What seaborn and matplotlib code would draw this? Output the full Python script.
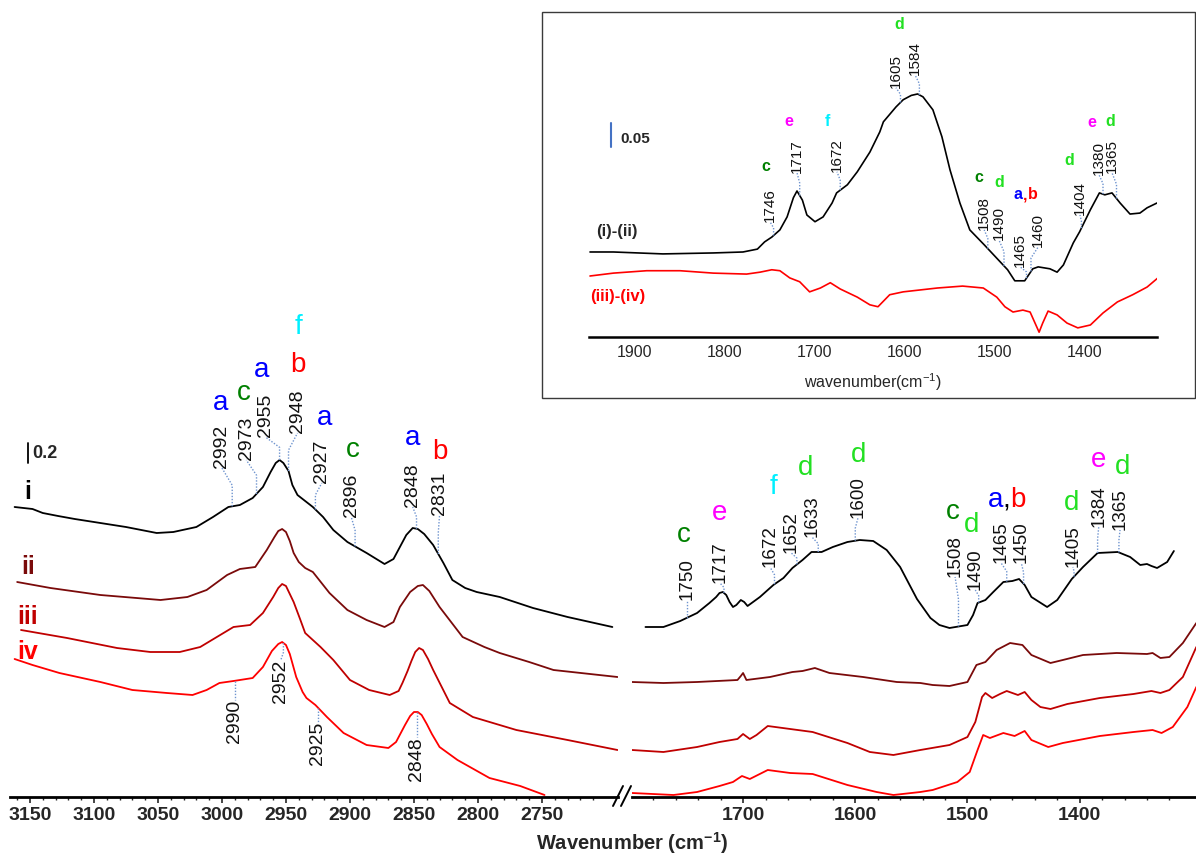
import numpy as np
import matplotlib
matplotlib.use("Agg")
import matplotlib.pyplot as plt
import seaborn as sns
from matplotlib.patches import Rectangle
from matplotlib.lines import Line2D
from matplotlib.ticker import FixedLocator

# ---------------------------------------------------------------- data
# C-H stretching region (left panel), absorbance with stacking offsets
wn_i_ch = [3162, 3155, 3148, 3140, 3128, 3115, 3095, 3075, 3051, 3038, 3020, 3007, 2995, 2986,
           2976, 2968, 2962, 2958, 2955, 2952, 2948, 2945, 2941, 2936, 2929, 2921, 2913, 2902,
           2887, 2873, 2866, 2861, 2856, 2851, 2847, 2842, 2835, 2827, 2820, 2810, 2801, 2783,
           2757, 2730, 2695]
abs_i_ch = [2.90, 2.89, 2.88, 2.84, 2.81, 2.78, 2.74, 2.70, 2.64, 2.65, 2.70, 2.80, 2.90, 2.92,
            2.99, 3.10, 3.25, 3.34, 3.37, 3.34, 3.26, 3.12, 3.02, 2.97, 2.90, 2.80, 2.67, 2.55,
            2.44, 2.33, 2.38, 2.50, 2.62, 2.69, 2.68, 2.63, 2.52, 2.34, 2.17, 2.09, 2.05, 2.00,
            1.89, 1.80, 1.70]

wn_ii_ch = [3160, 3134, 3095, 3048, 3027, 3012, 2996, 2986, 2974, 2965, 2959, 2956, 2953, 2950,
            2947, 2944, 2940, 2935, 2929, 2916, 2902, 2887, 2873, 2866, 2861, 2853, 2847, 2843,
            2838, 2830, 2812, 2795, 2783, 2760, 2741, 2691]
abs_ii_ch = [2.15, 2.09, 2.02, 1.97, 2.00, 2.07, 2.22, 2.28, 2.30, 2.47, 2.60, 2.66, 2.68, 2.65,
             2.56, 2.44, 2.35, 2.29, 2.25, 2.04, 1.87, 1.77, 1.70, 1.75, 1.90, 2.05, 2.11, 2.12,
             2.06, 1.90, 1.60, 1.50, 1.44, 1.35, 1.27, 1.20]

wn_iii_ch = [3157, 3121, 3082, 3056, 3033, 3017, 3004, 2991, 2978, 2968, 2960, 2956, 2953, 2950,
             2947, 2944, 2939, 2935, 2923, 2913, 2900, 2885, 2869, 2862, 2859, 2855, 2852, 2849,
             2846, 2843, 2839, 2835, 2822, 2804, 2770, 2730, 2691]
abs_iii_ch = [1.67, 1.59, 1.49, 1.45, 1.45, 1.50, 1.60, 1.70, 1.72, 1.84, 2.00, 2.09, 2.13, 2.11,
              2.03, 1.95, 1.78, 1.64, 1.50, 1.37, 1.17, 1.07, 1.02, 1.06, 1.14, 1.26, 1.36, 1.45,
              1.49, 1.47, 1.38, 1.27, 0.94, 0.80, 0.67, 0.57, 0.47]

wn_iv_ch = [3162, 3148, 3127, 3095, 3070, 3043, 3023, 3012, 3002, 2991, 2976, 2968, 2961, 2956,
            2953, 2950, 2947, 2942, 2937, 2934, 2927, 2918, 2905, 2887, 2870, 2864, 2857, 2853,
            2850, 2847, 2844, 2840, 2836, 2830, 2816, 2791, 2767, 2748]
abs_iv_ch = [1.38, 1.32, 1.24, 1.15, 1.07, 1.04, 1.02, 1.07, 1.14, 1.16, 1.19, 1.30, 1.46, 1.53,
             1.55, 1.52, 1.43, 1.20, 1.05, 0.99, 0.92, 0.80, 0.64, 0.52, 0.49, 0.55, 0.72, 0.81,
             0.85, 0.85, 0.82, 0.73, 0.63, 0.50, 0.37, 0.19, 0.11, 0.02]

# Fingerprint region (right panel)
wn_i_fp = [1787, 1771, 1756, 1741, 1730, 1724, 1721, 1718, 1715, 1712, 1709, 1706, 1702, 1699,
           1696, 1685, 1673, 1664, 1656, 1647, 1639, 1630, 1620, 1607, 1596, 1584, 1572, 1560,
           1545, 1533, 1525, 1516, 1500, 1495, 1491, 1484, 1477, 1468, 1460, 1454, 1449, 1443,
           1429, 1420, 1407, 1397, 1384, 1366, 1355, 1346, 1340, 1336, 1331, 1322, 1316]
abs_i_fp = [1.70, 1.70, 1.76, 1.84, 1.94, 2.00, 2.04, 2.05, 2.02, 1.95, 1.90, 1.92, 1.97, 1.95,
            1.91, 2.00, 2.12, 2.19, 2.29, 2.37, 2.45, 2.45, 2.50, 2.55, 2.57, 2.56, 2.47, 2.30,
            1.98, 1.79, 1.72, 1.69, 1.72, 1.82, 1.94, 1.97, 2.05, 2.15, 2.16, 2.18, 2.12, 2.00,
            1.90, 1.97, 2.18, 2.30, 2.44, 2.45, 2.40, 2.32, 2.33, 2.31, 2.29, 2.35, 2.46]

wn_ii_fp = [1799, 1771, 1741, 1705, 1702, 1700, 1697, 1676, 1656, 1647, 1636, 1623, 1593, 1563,
            1542, 1531, 1516, 1500, 1492, 1484, 1474, 1462, 1451, 1443, 1426, 1415, 1397, 1367,
            1340, 1335, 1328, 1320, 1308, 1296]
abs_ii_fp = [1.15, 1.14, 1.15, 1.17, 1.21, 1.24, 1.17, 1.20, 1.25, 1.26, 1.29, 1.24, 1.20, 1.15,
             1.14, 1.12, 1.11, 1.15, 1.32, 1.35, 1.47, 1.54, 1.52, 1.42, 1.34, 1.37, 1.42, 1.44,
             1.43, 1.44, 1.39, 1.40, 1.54, 1.74]

wn_iii_fp = [1799, 1771, 1741, 1721, 1705, 1700, 1694, 1688, 1678, 1658, 1638, 1607, 1587, 1566,
             1542, 1516, 1500, 1493, 1487, 1484, 1478, 1471, 1465, 1455, 1449, 1443, 1435, 1426,
             1411, 1382, 1352, 1336, 1328, 1320, 1308, 1296]
abs_iii_fp = [0.47, 0.45, 0.50, 0.55, 0.58, 0.63, 0.58, 0.62, 0.71, 0.68, 0.65, 0.54, 0.45, 0.42,
              0.47, 0.52, 0.60, 0.75, 1.00, 1.04, 0.99, 1.03, 1.06, 1.02, 1.05, 0.97, 0.90, 0.88,
              0.93, 0.99, 1.03, 1.06, 1.04, 1.07, 1.20, 1.50]

wn_iv_fp = [1799, 1762, 1741, 1721, 1709, 1701, 1694, 1678, 1658, 1638, 1607, 1581, 1566, 1542,
            1531, 1509, 1498, 1491, 1486, 1480, 1468, 1458, 1449, 1443, 1428, 1415, 1382, 1352,
            1335, 1327, 1317, 1304, 1296]
abs_iv_fp = [0.04, 0.02, 0.05, 0.11, 0.15, 0.21, 0.18, 0.27, 0.24, 0.23, 0.12, 0.05, 0.02, 0.05,
             0.07, 0.15, 0.25, 0.47, 0.62, 0.59, 0.64, 0.61, 0.66, 0.57, 0.50, 0.54, 0.61, 0.65,
             0.67, 0.64, 0.70, 0.90, 1.10]

# Difference spectra (inset)
wn_diff = [1950, 1924, 1869, 1813, 1780, 1764, 1756, 1748, 1739, 1731, 1724, 1720, 1714, 1709,
           1700, 1691, 1681, 1676, 1664, 1653, 1639, 1628, 1624, 1610, 1602, 1593, 1586, 1580,
           1569, 1559, 1550, 1539, 1528, 1512, 1496, 1486, 1478, 1467, 1458, 1452, 1439, 1431,
           1424, 1413, 1406, 1394, 1384, 1378, 1370, 1361, 1350, 1339, 1331, 1320]
diff_i_ii = [0.177, 0.177, 0.173, 0.175, 0.177, 0.183, 0.198, 0.208, 0.223, 0.250, 0.290, 0.304,
             0.285, 0.254, 0.240, 0.250, 0.279, 0.300, 0.317, 0.344, 0.385, 0.427, 0.448, 0.479,
             0.494, 0.503, 0.506, 0.500, 0.473, 0.417, 0.348, 0.279, 0.223, 0.192, 0.160, 0.140,
             0.117, 0.117, 0.142, 0.146, 0.142, 0.135, 0.150, 0.196, 0.219, 0.265, 0.300, 0.296,
             0.300, 0.279, 0.256, 0.258, 0.269, 0.279]

wn_diff2 = [1950, 1924, 1887, 1850, 1813, 1776, 1761, 1748, 1739, 1728, 1717, 1706, 1694, 1683,
            1672, 1653, 1639, 1630, 1617, 1602, 1564, 1536, 1513, 1498, 1489, 1480, 1469, 1461,
            1456, 1451, 1447, 1441, 1431, 1420, 1408, 1394, 1380, 1364, 1347, 1331, 1319]
diff_iii_iv = [0.127, 0.133, 0.138, 0.138, 0.133, 0.131, 0.135, 0.140, 0.138, 0.123, 0.115, 0.094,
               0.102, 0.113, 0.100, 0.083, 0.067, 0.063, 0.088, 0.094, 0.102, 0.106, 0.102, 0.083,
               0.063, 0.052, 0.056, 0.052, 0.031, 0.010, 0.029, 0.054, 0.046, 0.029, 0.019, 0.025,
               0.050, 0.073, 0.088, 0.104, 0.123]

ticks_ch = [3150, 3100, 3050, 3000, 2950, 2900, 2850, 2800, 2750]
ticks_fp = [1700, 1600, 1500, 1400]
ticks_inset = [1900, 1800, 1700, 1600, 1500, 1400]

# band assignments: marked wavenumber, label x, label end (y)
marks_ch_top = [(2992, 3000, 3.29), (2973, 2981, 3.37), (2955, 2966, 3.60), (2948, 2941, 3.64),
                (2927, 2922, 3.14), (2896, 2899, 2.80), (2848, 2851, 2.90), (2831, 2830, 2.82)]
marks_ch_low = [(2990, 2990, 0.97), (2952, 2954, 1.37), (2925, 2925, 0.75), (2848, 2848, 0.60)]
marks_fp = [(1750, 1750, 1.97), (1717, 1720.6, 2.14), (1672, 1676, 2.30), (1652, 1657, 2.44),
            (1633, 1638.6, 2.60), (1600, 1597.6, 2.79), (1508, 1511, 2.20), (1490, 1493, 2.07),
            (1465, 1470, 2.34), (1450, 1452, 2.34), (1405, 1406, 2.30), (1384, 1383, 2.70),
            (1365, 1364, 2.67)]
marks_inset = [(1746, 1750, 0.240), (1717, 1720, 0.342), (1672, 1675.6, 0.344),
               (1605, 1610, 0.519), (1584, 1588.9, 0.546), (1508, 1512, 0.223),
               (1490, 1495.6, 0.202), (1465, 1472, 0.146), (1460, 1452, 0.1875),
               (1404, 1405.6, 0.254), (1380, 1384.4, 0.3375), (1365, 1370, 0.342)]

# ---------------------------------------------------------------- style
BLUE, RED, GREEN, LIME = "#0000ff", "#ff0000", "#008000", "#22e022"
MAGENTA, CYAN = "#ff00ff", "#00f0ff"
C_I, C_II, C_III, C_IV = "#000000", "#7a0a0a", "#c00000", "#ff0000"
MARK = "#6f94cf"

letters_ch = [("a", BLUE, 3001, 3.94), ("c", GREEN, 2983, 4.04), ("a", BLUE, 2969, 4.27),
              ("b", RED, 2941, 4.32), ("f", CYAN, 2940, 4.70), ("a", BLUE, 2920, 3.79),
              ("c", GREEN, 2898, 3.47), ("a", BLUE, 2851, 3.59), ("b", RED, 2830, 3.45)]
letters_fp = [("c", GREEN, 1752.7, 2.62), ("e", MAGENTA, 1720.6, 2.84), ("f", CYAN, 1672.5, 3.10),
              ("d", LIME, 1644, 3.29), ("d", LIME, 1597, 3.42), ("c", GREEN, 1513, 2.85),
              ("d", LIME, 1496, 2.72), ("a", BLUE, 1474.6, 2.97), (",", "black", 1465.7, 2.97),
              ("b", RED, 1455, 2.97), ("d", LIME, 1407, 2.94), ("e", MAGENTA, 1383, 3.37),
              ("d", LIME, 1362, 3.30)]
letters_inset = [("c", GREEN, 1754.4, 0.354), ("e", MAGENTA, 1729, 0.448), ("f", CYAN, 1686.7, 0.448),
                 ("d", LIME, 1606.7, 0.650), ("c", GREEN, 1517.8, 0.333), ("d", LIME, 1495.6, 0.321),
                 ("a", BLUE, 1474, 0.296), (",", RED, 1466, 0.296), ("b", RED, 1458, 0.296),
                 ("d", LIME, 1417.8, 0.367), ("e", MAGENTA, 1392, 0.446), ("d", LIME, 1372, 0.448)]

sns.set_style("white")
plt.rcParams["font.family"] = ["Liberation Sans", "DejaVu Sans"]
plt.rcParams["mathtext.fontset"] = "custom"
plt.rcParams["mathtext.rm"] = "Liberation Sans"
plt.rcParams["mathtext.bf"] = "Liberation Sans:bold"
plt.rcParams["mathtext.it"] = "Liberation Sans:italic"

W, H = 1196, 855
fig = plt.figure(figsize=(W / 100, H / 100), dpi=100)


def box(x0, y0, x1, y1):
    return [x0 / W, 1 - y1 / H, (x1 - x0) / W, (y1 - y0) / H]


ax_ch = fig.add_axes(box(10, 0, 618, 797))
ax_fp = fig.add_axes(box(632, 0, 1196, 797))
ax_in = fig.add_axes(box(589, 20, 1157, 337))
ax_in.set_zorder(2)

ax_ch.set_xlim(3165.6, 2690.6)
ax_fp.set_xlim(1799.0, 1296.3)
ax_in.set_xlim(1951.1, 1320.0)
for ax in (ax_ch, ax_fp):
    ax.set_ylim(0, 7.97)
ax_in.set_ylim(0, 0.660)

for ax in (ax_ch, ax_fp, ax_in):
    ax.set_facecolor("none")
    for s in ("top", "left", "right"):
        ax.spines[s].set_visible(False)
    ax.spines["bottom"].set_color("black")
    ax.set_yticks([])
    ax.set_ylabel("")
    ax.set_xlabel("")


def curve(ax, x, y, color, lw=1.3):
    sns.lineplot(x=np.asarray(x, float), y=np.asarray(y, float), ax=ax, color=color,
                 linewidth=lw, sort=False, estimator=None, legend=False)


for ax, pairs in ((ax_ch, [(wn_i_ch, abs_i_ch, C_I), (wn_ii_ch, abs_ii_ch, C_II),
                           (wn_iii_ch, abs_iii_ch, C_III), (wn_iv_ch, abs_iv_ch, C_IV)]),
                  (ax_fp, [(wn_i_fp, abs_i_fp, C_I), (wn_ii_fp, abs_ii_fp, C_II),
                           (wn_iii_fp, abs_iii_fp, C_III), (wn_iv_fp, abs_iv_fp, C_IV)])):
    for x, y, c in pairs:
        curve(ax, x, y, c)

curve(ax_in, wn_diff, diff_i_ii, "black", lw=1.2)
curve(ax_in, wn_diff2, diff_iii_iv, RED, lw=1.2)


def at(x, y, wn):
    return float(np.interp(wn, np.asarray(x)[::-1], np.asarray(y)[::-1]))


def marks_up(ax, x, y, marks, fs):
    for m, lx, end in marks:
        cy = at(x, y, m)
        mid = cy + 0.55 * (end - cy)
        ax.plot([m, m, lx], [cy, mid, end], ls=(0, (1, 1.2)), color=MARK, lw=1.0)
        ax.text(lx, end, str(m), rotation=90, ha="center", va="bottom", fontsize=fs,
                color="#111111")


def marks_down(ax, x, y, marks, fs):
    for m, lx, end in marks:
        cy = at(x, y, m)
        mid = cy + 0.55 * (end - cy)
        ax.plot([m, m, lx], [cy, mid, end], ls=(0, (1, 1.2)), color=MARK, lw=1.0)
        ax.text(lx, end, str(m), rotation=90, ha="center", va="top", fontsize=fs,
                color="#111111")


def letters(ax, items, fs, weight="normal"):
    for t, c, xx, yy in items:
        ax.text(xx, yy, t, color=c, fontsize=fs, ha="center", va="center", fontweight=weight)


marks_up(ax_ch, wn_i_ch, abs_i_ch, marks_ch_top, 14)
marks_down(ax_ch, wn_iv_ch, abs_iv_ch, marks_ch_low, 14)
marks_up(ax_fp, wn_i_fp, abs_i_fp, marks_fp, 13.5)
marks_up(ax_in, wn_diff, diff_i_ii, marks_inset, 11)
letters(ax_ch, letters_ch, 20)
letters(ax_fp, letters_fp, 20)
letters(ax_in, letters_inset, 11.5, "bold")

# trace labels
for t, c, yy in (("i", C_I, 3.05), ("ii", C_II, 2.30), ("iii", C_III, 1.80), ("iv", C_IV, 1.45)):
    ax_ch.text(3151.6, yy, t, color=c, fontsize=18, fontweight="bold", ha="center", va="center")

# absorbance scale bars
ax_ch.plot([3151.8, 3151.8], [3.34, 3.34 + 0.2], color="black", lw=1.3)
ax_ch.text(3148.0, 3.44, "0.2", fontsize=13, fontweight="bold", ha="left", va="center")
ax_in.plot([1926.7, 1926.7], [0.396, 0.396 + 0.05], color="#4472c4", lw=1.5)
ax_in.text(1916.7, 0.4125, "0.05", fontsize=11, fontweight="bold", ha="left", va="center")
ax_in.text(1943, 0.219, "(i)-(ii)", fontsize=12, fontweight="bold", ha="left", va="center")
ax_in.text(1950, 0.085, "(iii)-(iv)", fontsize=12, fontweight="bold", color=RED,
           ha="left", va="center")

# axes ticks
ax_ch.xaxis.set_major_locator(FixedLocator(ticks_ch))
ax_ch.xaxis.set_minor_locator(FixedLocator([v for v in range(3160, 2690, -10) if v % 50]))
ax_fp.xaxis.set_major_locator(FixedLocator(ticks_fp))
ax_fp.xaxis.set_minor_locator(FixedLocator([v for v in range(1780, 1300, -20) if v % 100]))
for ax in (ax_ch, ax_fp):
    ax.spines["bottom"].set_linewidth(2.0)
    ax.tick_params(axis="x", which="major", direction="out", length=4.5, width=1.2,
                   pad=3.0, bottom=True)
    ax.tick_params(axis="x", which="minor", direction="out", length=2.5, width=1.0, bottom=True)
    ax.set_xticklabels([str(v) for v in ax.get_xticks()], fontweight="bold", fontsize=14)

ax_in.xaxis.set_major_locator(FixedLocator(ticks_inset))
ax_in.spines["bottom"].set_linewidth(1.8)
ax_in.tick_params(axis="x", which="major", length=0, pad=6, labelsize=11.5, bottom=True)
ax_in.set_xticklabels([str(v) for v in ticks_inset])
ax_in.set_xlabel("wavenumber(cm$^{-1}$)", fontsize=11.5, labelpad=8)

# inset frame
fig.add_artist(Rectangle((542 / W, 1 - 398 / H), (1195 - 542) / W, (398 - 12) / H,
                         transform=fig.transFigure, facecolor="white", edgecolor="#3a3a3a",
                         lw=1.0, zorder=1))

# axis break marks
for dx in (0, 8):
    fig.add_artist(Line2D([(613 + dx) / W, (623 + dx) / W], [1 - 806 / H, 1 - 786 / H],
                          transform=fig.transFigure, color="black", lw=1.4, zorder=3))

fig.text(632 / W, 1 - 843 / H, r"Wavenumber (cm$^{\mathbf{-1}}$)", fontsize=14.5,
         fontweight="bold", ha="center", va="center")

fig.savefig("out.png", dpi=100, facecolor="white")
